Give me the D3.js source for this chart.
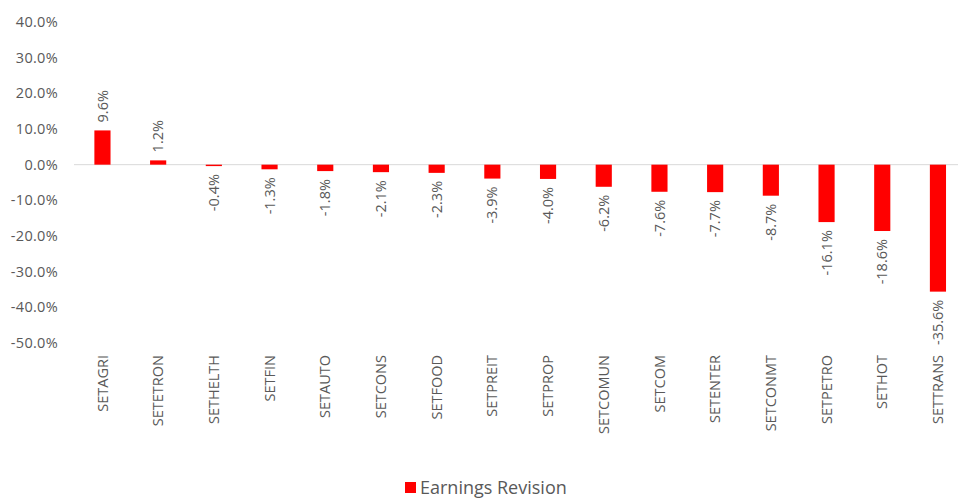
<!DOCTYPE html>
<html>
<head>
<meta charset="utf-8">
<script src="https://cdn.jsdelivr.net/npm/d3@7"></script>
<style>
	body { margin: 0; background: #fff; }
	svg text { font-family: "Open Sans", "Noto Sans", sans-serif; fill: #595959; }
</style>
</head>
<body>
<div id="chart"></div>
<script>
'use strict'
var categories = ["SETAGRI", "SETETRON", "SETHELTH", "SETFIN", "SETAUTO", "SETCONS", "SETFOOD", "SETPREIT",
	"SETPROP", "SETCOMUN", "SETCOM", "SETENTER", "SETCONMT", "SETPETRO", "SETHOT", "SETTRANS"];
var revision = [9.6, 1.2, -0.4, -1.3, -1.8, -2.1, -2.3, -3.9, -4.0, -6.2, -7.6, -7.7, -8.7, -16.1, -18.6, -35.6];
var yTicks = [40, 30, 20, 10, 0, -10, -20, -30, -40, -50];
var seriesName = "Earnings Revision";

var w = 962, h = 498;
var svg = d3.select("#chart").append("svg").attr("width", w).attr("height", h);

var x = d3.scaleBand().domain(categories).range([74.6, 965.8]).paddingInner(0.71).paddingOuter(0.355);
var y = d3.scaleLinear().domain([-50, 40]).range([343, 22]);

// y axis labels
svg.append("g").selectAll("text")
	.data(yTicks)
	.enter().append("text")
	.attr("x", 58)
	.attr("y", function(d){ return y(d); })
	.attr("dy", "0.35em")
	.attr("text-anchor", "end")
	.style("font-size", "14.5px")
	.style("letter-spacing", "0.3px")
	.text(function(d){ return d.toFixed(1) + "%"; });

// zero line
svg.append("line")
	.attr("x1", 74).attr("x2", 958)
	.attr("y1", y(0)).attr("y2", y(0))
	.style("stroke", "#d9d9d9").style("stroke-width", 1);

// bars
svg.append("g").selectAll("rect")
	.data(revision)
	.enter().append("rect")
	.attr("x", function(d, i){ return x(categories[i]); })
	.attr("width", x.bandwidth())
	.attr("y", function(d){ return y(Math.max(0, d)); })
	.attr("height", function(d){ return Math.abs(y(d) - y(0)); })
	.style("fill", "#ff0000");

// data labels, rotated
svg.append("g").selectAll("text")
	.data(revision)
	.enter().append("text")
	.attr("transform", function(d, i){
		var cx = x(categories[i]) + x.bandwidth() / 2;
		var cy = d >= 0 ? y(d) - 8 : y(d) + 8;
		return "translate(" + cx + "," + cy + ") rotate(-90)";
	})
	.attr("dy", "0.35em")
	.attr("text-anchor", function(d){ return d >= 0 ? "start" : "end"; })
	.style("font-size", "14.5px")
	.text(function(d){ return d.toFixed(1) + "%"; });

// category labels
svg.append("g").selectAll("text")
	.data(categories)
	.enter().append("text")
	.attr("transform", function(d){
		return "translate(" + (x(d) + x.bandwidth() / 2) + ",355) rotate(-90)";
	})
	.attr("dy", "0.35em")
	.attr("text-anchor", "end")
	.style("font-size", "14.5px")
	.text(function(d){ return d; });

// legend
var legend = svg.append("g").attr("transform", "translate(405,482)");
legend.append("rect").attr("width", 11).attr("height", 11).style("fill", "#ff0000");
legend.append("text")
	.attr("x", 15).attr("y", 6).attr("dy", "0.35em")
	.style("font-size", "18px")
	.text(seriesName);
</script>
</body>
</html>
